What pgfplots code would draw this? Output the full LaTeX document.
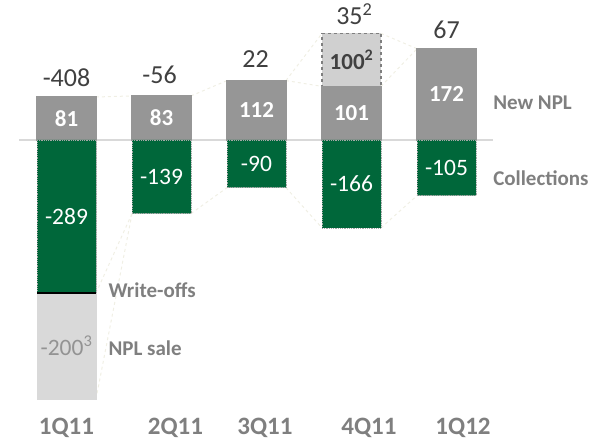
\documentclass[border=0pt]{standalone}
\usepackage{pgfplots}
\pgfplotsset{compat=1.18}
\usepackage{fontspec}
\setmainfont{Carlito}
\definecolor{barGray}{HTML}{969696}
\definecolor{darkGreen}{HTML}{00673A}
\definecolor{lightGray}{HTML}{D9D9D9}
\definecolor{boxGray}{HTML}{D0D0D0}
\definecolor{txtDark}{HTML}{404040}
\definecolor{txtGray}{HTML}{7F7F7F}
\definecolor{conn}{HTML}{F0EFE4}
\begin{document}
\begin{tikzpicture}
\begin{axis}[
  scale only axis, width=606pt, height=441pt,
  xmin=-0.7, xmax=5.679, ymin=-568, ymax=264,
  axis lines=none, clip=false,
  every axis plot/.append style={bar width=59pt, bar shift=0pt},
]
% connectors
\addplot[conn, dashed, line width=1pt] coordinates {(0.31,81) (0.69,83)};
\addplot[conn, dashed, line width=1pt] coordinates {(1.31,83) (1.69,112)};
\addplot[conn, dashed, line width=1pt] coordinates {(2.31,112) (2.69,201)};
\addplot[conn, dashed, line width=1pt] coordinates {(2.31,112) (2.69,101)};
\addplot[conn, dashed, line width=1pt] coordinates {(3.31,201) (3.69,172)};
\addplot[conn, dashed, line width=1pt] coordinates {(3.31,101) (3.69,172)};
\addplot[conn, dashed, line width=1pt] coordinates {(0.31,-489) (0.69,-139)};
\addplot[conn, dashed, line width=1pt] coordinates {(0.31,-289) (0.69,-139)};
\addplot[conn, dashed, line width=1pt] coordinates {(1.31,-139) (1.69,-90)};
\addplot[conn, dashed, line width=1pt] coordinates {(2.31,-90) (2.69,-166)};
\addplot[conn, dashed, line width=1pt] coordinates {(3.31,-166) (3.69,-105)};
% baseline
\addplot[lightGray, line width=1.5pt] coordinates {(-0.5,0) (4.49,0)};
% NPL sale (behind collections)
\addplot[ybar, fill=lightGray, draw=lightGray] coordinates {(0,-489)};
% 4Q11 box (behind new NPL)
\addplot[ybar, fill=boxGray, draw=txtGray, dashed, line width=1.2pt] coordinates {(3,201)};
% New NPL
\addplot[ybar, fill=barGray, draw=barGray, line width=1.2pt] coordinates {(0,81) (1,83) (2,112) (3,101) (4,172)};
% Collections
\addplot[ybar, fill=darkGreen, draw=gray!70, densely dotted, line width=0.8pt] coordinates {(0,-289) (1,-139) (2,-90) (3,-166) (4,-105)};
% write-offs line
\addplot[black, line width=2pt] coordinates {(-0.31,-289) (0.31,-289)};

% top totals
\begin{scope}[every node/.style={anchor=base, text=txtDark, inner sep=0pt, font=\fontsize{26}{30}\selectfont}]
\node at (axis cs:0,100) {-408};
\node at (axis cs:0.98,105.7) {-56};
\node at (axis cs:1.99,135.8) {22};
\node at (axis cs:3.03,217) {35\textsuperscript{2}};
\node at (axis cs:4.0,190.6) {67};
\end{scope}
% inner labels
\begin{scope}[every node/.style={text=white, font=\bfseries\fontsize{23}{26}\selectfont}]
\node at (axis cs:0,40.5) {81};
\node at (axis cs:1,41.5) {83};
\node at (axis cs:2,56) {112};
\node at (axis cs:3,50.5) {101};
\node at (axis cs:4,86) {172};
\end{scope}
\node[text=txtDark, font=\bfseries\fontsize{23}{26}\selectfont] at (axis cs:3,151) {100\textsuperscript{2}};
\begin{scope}[every node/.style={text=white, font=\fontsize{23.5}{26}\selectfont}]
\node at (axis cs:0,-144.5) {-289};
\node at (axis cs:1,-69.5) {-139};
\node at (axis cs:2,-45) {-90};
\node at (axis cs:3,-83) {-166};
\node at (axis cs:4,-52.5) {-105};
\end{scope}
\node[text=gray!85, font=\fontsize{23.5}{26}\selectfont] at (axis cs:0,-389) {-200\textsuperscript{3}};
% annotations
\begin{scope}[every node/.style={anchor=base west, inner sep=0pt, text=txtGray, font=\bfseries\fontsize{21}{24}\selectfont}]
\node at (axis cs:4.49,56.6) {New NPL};
\node at (axis cs:4.49,-86) {Collections};
\node at (axis cs:0.44,-298) {Write-offs};
\node at (axis cs:0.44,-407.5) {NPL sale};
\end{scope}
% categories
\begin{scope}[every node/.style={anchor=base, inner sep=0pt, text=txtGray, font=\bfseries\fontsize{25}{28}\selectfont}]
\node at (axis cs:0,-556.6) {1Q11};
\node at (axis cs:1.147,-556.6) {2Q11};
\node at (axis cs:2.089,-556.6) {3Q11};
\node at (axis cs:3.184,-556.6) {4Q11};
\node at (axis cs:4.174,-556.6) {1Q12};
\end{scope}
\end{axis}
\pgfresetboundingbox
\useasboundingbox (current axis.south west) rectangle (current axis.north east);
\end{tikzpicture}
\end{document}
